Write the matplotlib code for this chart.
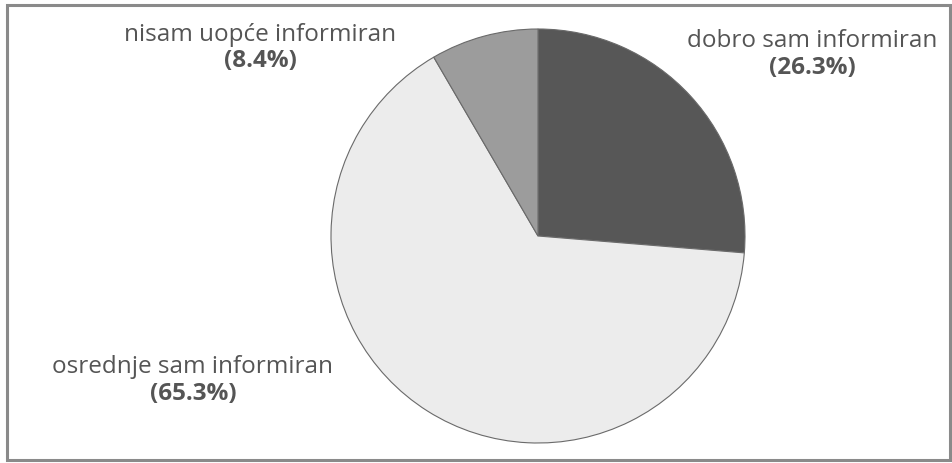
import matplotlib.pyplot as plt
from matplotlib.patches import Rectangle

# Data
categories = ["dobro sam informiran", "osrednje sam informiran", "nisam uopće informiran"]
shares = [26.3, 65.3, 8.4]
colors = ["#575757", "#ececec", "#9c9c9c"]
# label anchor positions in pie-radius units
label_x = [1.324, -1.667, -1.343]
label_y = [0.879, -0.700, 0.908]

fig = plt.figure(figsize=(9.53, 4.63), dpi=100)
fig.patches.append(Rectangle((7 / 953, 3 / 463), 943 / 953, 455 / 463,
                             transform=fig.transFigure, fill=False,
                             edgecolor="#8a8a8a", linewidth=2.2))

ax = fig.add_axes([331 / 953, 20 / 463, 414 / 953, 414 / 463])
ax.pie(shares, colors=colors, startangle=90, counterclock=False,
       wedgeprops=dict(edgecolor="#6a6a6a", linewidth=0.8))
ax.set_xlim(-1, 1)
ax.set_ylim(-1, 1)
ax.set_aspect("equal")

for name, val, x, y in zip(categories, shares, label_x, label_y):
    ax.text(x, y + 0.065, name, ha="center", va="center", fontsize=17.5,
            color="#555555", family="Open Sans", clip_on=False)
    ax.text(x, y - 0.065, "(%.1f%%)" % val, ha="center", va="center", fontsize=17.5,
            color="#555555", family="Open Sans", fontweight="bold", clip_on=False)

fig.savefig("out.png", dpi=100)
